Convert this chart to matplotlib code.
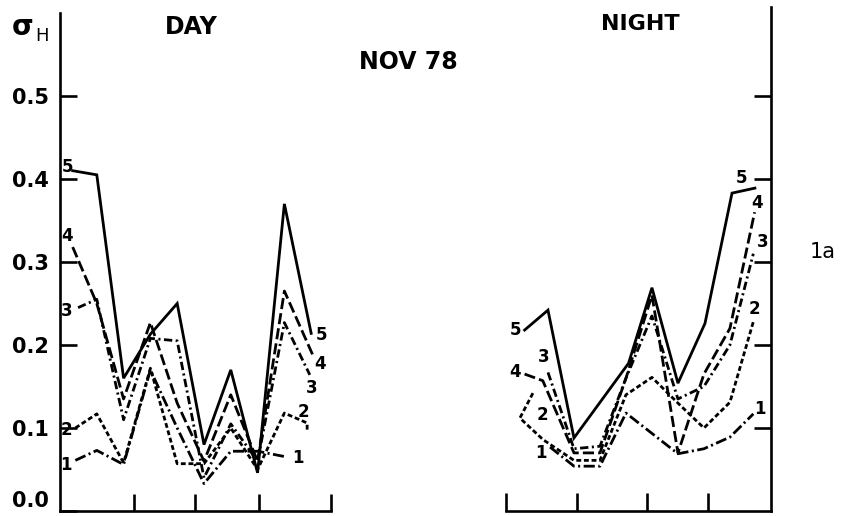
import matplotlib
matplotlib.use("Agg")
import matplotlib.pyplot as plt

# ---------------- data ----------------
y_ticks = [0.0, 0.1, 0.2, 0.3, 0.4, 0.5]
y_tick_labels = ["0.0", "0.1", "0.2", "0.3", "0.4", "0.5"]
series_names = ["1", "2", "3", "4", "5"]

# DAY (sample index along the x axis)
day_x = {
    "5": [1.1, 2, 3, 4, 5, 6, 7, 8, 9, 10],
    "4": [1.1, 2, 3, 4, 5, 6, 7, 8, 9, 10.1],
    "3": [1.3, 2, 3, 4, 5, 6, 7, 8, 9, 9.95],
    "2": [1.2, 2, 3, 4, 5, 6, 7, 8, 9, 9.85, 9.85],
    "1": [1.2, 2, 3, 4, 5, 6, 7, 8, 9.1],
}
day_y = {
    "5": [0.41, 0.405, 0.16, 0.213, 0.25, 0.08, 0.17, 0.046, 0.37, 0.214],
    "4": [0.318, 0.25, 0.135, 0.227, 0.13, 0.06, 0.14, 0.06, 0.265, 0.185],
    "3": [0.245, 0.255, 0.11, 0.208, 0.205, 0.04, 0.105, 0.06, 0.227, 0.164],
    "2": [0.10, 0.117, 0.058, 0.172, 0.057, 0.057, 0.10, 0.05, 0.118, 0.106, 0.098],
    "1": [0.061, 0.073, 0.056, 0.17, 0.10, 0.033, 0.072, 0.072, 0.065],
}

# NIGHT
night_x = {
    "5": [1.1, 2, 3, 5.1, 6, 7, 8.04, 9.08, 9.96],
    "4": [1.1, 1.8, 3, 4, 5, 6, 7, 8, 9, 9.95],
    "3": [2.0, 3, 4, 5, 6, 7, 8, 9, 9.9],
    "2": [1.42, 0.92, 1.81, 3, 4, 5, 6, 7, 8, 9, 9.9],
    "1": [2.08, 3, 4, 5, 7, 8, 9, 9.9],
}
night_y = {
    "5": [0.218, 0.242, 0.088, 0.178, 0.269, 0.154, 0.226, 0.383, 0.389],
    "4": [0.165, 0.157, 0.07, 0.07, 0.16, 0.26, 0.07, 0.165, 0.22, 0.36],
    "3": [0.167, 0.075, 0.078, 0.16, 0.235, 0.135, 0.15, 0.20, 0.31],
    "2": [0.142, 0.112, 0.086, 0.061, 0.061, 0.14, 0.161, 0.13, 0.10, 0.131, 0.228],
    "1": [0.077, 0.054, 0.054, 0.118, 0.069, 0.075, 0.089, 0.117],
}

day_xticks = [3.39, 5.66, 8.05, 10.74]
night_xticks = [0.385, 3.115, 5.81, 8.15]

# ---------------- styles ----------------
plt.rcParams["lines.scale_dashes"] = False
BOLD = dict(family="DejaVu Sans", weight="bold")
line_styles = {
    "5": "-",
    "4": (0, (8, 3)),
    "3": (0, (6, 2.5, 1.5, 2.5)),
    "2": (0, (3.5, 2)),
    "1": (0, (8, 2.5, 1.5, 2.5)),
}
LW = 2.0

# label offsets (pixels) from first / last point of each curve
day_start_off = {"5": (-5, 4), "4": (-6, 11), "3": (-11, -3), "2": (-9, -2), "1": (-9, -5)}
day_end_off = {"5": (10, -2), "4": (6, -7), "3": (2, -13), "2": (-4, 18), "1": (11, -1)}
night_start_off = {"5": (-9, 0), "4": (-10, 2), "3": (-4, 15), "2": (10, -22), "1": (-9, -6)}
night_end_off = {"5": (-13, 10), "4": (2, 9), "3": (9, 12), "2": (1, 13), "1": (7, 5)}

W, H = 841, 516
fig = plt.figure(figsize=(W / 100, H / 100), dpi=100)

px_per_unit = 830.0
base_px = 511.0


def rect(x0, x1, ytop_val):
    height = ytop_val * px_per_unit
    return [x0 / W, (H - base_px) / H, (x1 - x0) / W, height / H]


ax_d = fig.add_axes(rect(60, 331, 0.6))
ax_n = fig.add_axes(rect(506, 771, 0.607))

ax_d.set_xlim(0.627, 10.74)
ax_d.set_ylim(0, 0.6)
ax_n.set_xlim(0.385, 10.58)
ax_n.set_ylim(0, 0.607)

for ax in (ax_d, ax_n):
    ax.set_facecolor("none")
    for s in ax.spines.values():
        s.set_linewidth(1.9)
        s.set_color("black")
    ax.tick_params(which="both", direction="in", width=1.9, length=12, color="black")

ax_d.spines["top"].set_visible(False)
ax_d.spines["right"].set_visible(False)
ax_n.spines["top"].set_visible(False)
ax_n.spines["left"].set_visible(False)

ax_d.set_yticks(y_ticks)
ax_d.set_yticklabels(y_tick_labels, fontdict=dict(size=15, **BOLD))
ax_d.tick_params(axis="y", pad=8)
# the bottom label sits just above the baseline
ax_d.get_yticklabels()[0].set_verticalalignment("bottom")
ax_d.set_xticks(day_xticks)
ax_d.set_xticklabels([])

ax_n.yaxis.tick_right()
ax_n.set_yticks(y_ticks[1:])
ax_n.set_yticklabels([])
ax_n.set_xticks(night_xticks)
ax_n.set_xticklabels([])
ax_n.tick_params(axis="x", length=13)


def draw(ax, xs, ys, s_off, e_off):
    for name in series_names:
        x, y = xs[name], ys[name]
        ax.plot(x, y, color="black", lw=LW, linestyle=line_styles[name],
                solid_joinstyle="miter", clip_on=False)
        for (px, py), off in (((x[0], y[0]), s_off[name]), ((x[-1], y[-1]), e_off[name])):
            ax.annotate(name, (px, py), xytext=off, textcoords="offset pixels",
                        ha="center", va="center", fontsize=12, **BOLD)


draw(ax_d, day_x, day_y, day_start_off, day_end_off)
draw(ax_n, night_x, night_y, night_start_off, night_end_off)


def ftext(x, y, s, size, **kw):
    fig.text(x / W, 1 - y / H, s, ha="center", va="center", fontsize=size, **kw)


ftext(23, 27, "σ", 20, **BOLD)
ftext(42, 36, "H", 13, family="DejaVu Sans")
ftext(191, 27, "DAY", 17, **BOLD)
ftext(408, 62, "NOV 78", 17, **BOLD)
ftext(640, 24, "NIGHT", 16, **BOLD)
ftext(823, 252, "1a", 15, family="DejaVu Sans")

fig.savefig("out.png", dpi=100, facecolor="white")
